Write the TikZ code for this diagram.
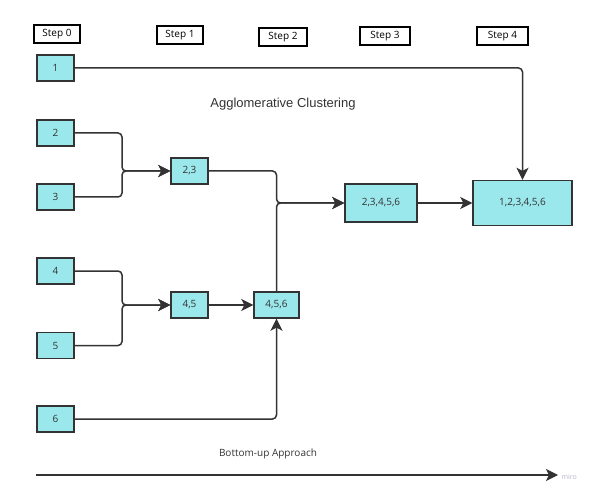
\documentclass[tikz,border=0pt]{standalone}
\usepackage{fontspec}
\setmainfont{Open Sans}
\newfontfamily\arialfont{Liberation Sans}
\usetikzlibrary{arrows.meta,calc}
\definecolor{boxfill}{RGB}{155,232,236}
\definecolor{ink}{RGB}{51,51,51}
\definecolor{mirogrey}{RGB}{180,180,205}
\begin{document}
\begin{tikzpicture}[x=1pt,y=-1pt,
  cluster/.style={draw=ink,fill=boxfill,line width=1.4pt,inner sep=0pt,
     text=ink,font=\fontsize{10}{12}\selectfont},
  steplabel/.style={draw=black,fill=white,line width=1.1pt,inner sep=0pt,
     minimum width=46pt,minimum height=18pt,font=\fontsize{10}{12}\selectfont},
  conn/.style={draw=ink,line width=1.5pt,rounded corners=4pt},
  tip/.style={-{Stealth[length=12pt,width=12pt,inset=3pt]}}]
\useasboundingbox (0,0) rectangle (597,497);
% step labels
\node[steplabel] (s0) at (57,34) {Step 0};
\node[steplabel] (s1) at (180,35) {Step 1};
\node[steplabel,minimum width=48pt] (s2) at (283,37) {Step 2};
\node[steplabel,minimum width=50pt] (s3) at (385,36) {Step 3};
\node[steplabel,minimum width=51pt] (s4) at (502.5,36) {Step 4};
% leaf nodes
\node[cluster,minimum width=37pt,minimum height=26pt] (n1) at (55.5,68) {1};
\node[cluster,minimum width=37pt,minimum height=26pt] (n2) at (55.5,133) {2};
\node[cluster,minimum width=37pt,minimum height=26pt] (n3) at (55.5,197) {3};
\node[cluster,minimum width=37pt,minimum height=26pt] (n4) at (55.5,271) {4};
\node[cluster,minimum width=37pt,minimum height=26pt] (n5) at (55.5,345.5) {5};
\node[cluster,minimum width=37pt,minimum height=26pt] (n6) at (55.5,419) {6};
% merged nodes
\node[cluster,minimum width=37pt,minimum height=26pt] (n23) at (189.5,171) {2,3};
\node[cluster,minimum width=37pt,minimum height=26pt] (n45) at (189.5,305) {4,5};
\node[cluster,minimum width=45pt,minimum height=26pt] (n456) at (276.5,305) {4,5,6};
\node[cluster,minimum width=72pt,minimum height=38pt] (n23456) at (381,203) {2,3,4,5,6};
\node[cluster,minimum width=99pt,minimum height=45pt] (n123456) at (522.5,203) {1,2,3,4,5,6};
% title
\node[text=ink,font=\arialfont\fontsize{13}{15}\selectfont] (title) at (283,104) {Agglomerative Clustering};
% junctions
\coordinate (j23) at (122,171);
\coordinate (j45) at (122,305);
\coordinate (jtop) at (n456.north |- n23456.west);
% connectors
\draw[conn,tip] (n1.east) -| (n123456.north);
\draw[conn,tip] (n2.east) -| (j23) -- (n23.west);
\draw[conn,tip] (n3.east) -| (j23) -- (n23.west);
\draw[conn,tip] (n4.east) -| (j45) -- (n45.west);
\draw[conn,tip] (n5.east) -| (j45) -- (n45.west);
\draw[conn,tip] (n45.east) -- (n456.west);
\draw[conn,tip] (n6.east) -| (n456.south);
\draw[conn,tip] (n23.east) -| (jtop) -- (n23456.west);
\draw[conn,tip] (n456.north) -- (jtop) -- (n23456.west);
\draw[conn,tip] (n23456.east) -- (n123456.west);
% bottom-up approach
\node[text=ink,font=\fontsize{10}{12}\selectfont] (approach) at (268,454) {Bottom-up Approach};
\coordinate (axstart) at (36,475);
\coordinate (axend) at (558,475);
\draw[draw=ink,line width=1.5pt,tip] (axstart) -- (axend);
\node[text=mirogrey,font=\fontsize{7}{8}\selectfont,anchor=west] (miro) at (558,477) {miro};
\end{tikzpicture}
\end{document}
